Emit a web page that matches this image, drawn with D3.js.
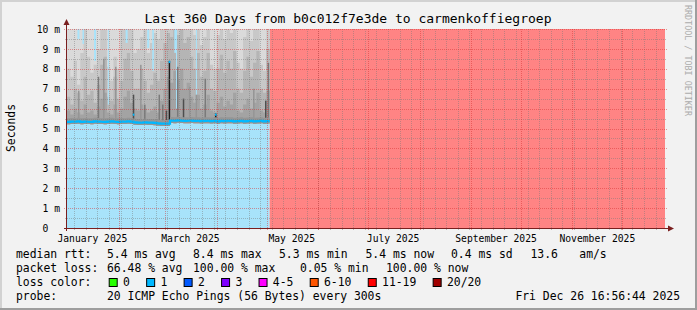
<!DOCTYPE html>
<html><head><meta charset="utf-8">
<script src="https://cdn.jsdelivr.net/npm/d3@7"></script>
<style>
html,body{margin:0;padding:0;background:#f2f2f2;}
svg text{font-family:"DejaVu Sans Mono",monospace;white-space:pre;}
</style></head><body>
<svg id="chart" width="697" height="310"></svg>
<script>
// ---------------- DATA ----------------
const title = "Last 360 Days from b0c012f7e3de to carmenkoffiegroep";
const startTime = new Date(2024, 11, 31, 16, 56, 44);
const endTime = new Date(2025, 11, 26, 16, 56, 44);
const binDays = 2; // each value below covers 2 days, starting at startTime

// median rtt per bin (ms)
const median = [5.33,5.35,5.34,5.36,5.33,5.35,5.34,5.33,5.36,5.35,5.34,5.33,5.35,5.36,5.34,5.33,5.35,5.34,5.36,5.35,
  5.31,5.30,5.29,5.31,5.30,5.30,5.28,5.26,5.24,5.25,5.25,
  5.40,5.39,5.41,5.40,5.38,5.39,5.40,5.38,5.39,5.37,5.38,5.39,5.37,5.38,5.36,5.38,5.37,5.39,5.38,5.36,
  5.37,5.38,5.36,5.37,5.38,5.36,5.37,5.38,5.36,5.37];
// smoke percentile tops per bin (ms)
const smoke90 = [8.0,7.6,8.4,7.2,8.8,10,8.6,7.8,8.2,9.0,10,10,8.1,7.4,8.6,8.0,10,10,10,10,8.8,
  9.0,9.6,10,8.8,9.3,9.8,9.5,10,10,10,
  10,10,10,10,10,10,10,9.7,10,9.2,
  9.6,10,8.2,8.0,9.7,10,9.5,10,9.8,10,
  8.3,8.0,9.6,10,9.4,10,10,8.2,7.9,10];
const smoke75 = [6.6,6.2,7.0,6.8,6.4,7.6,6.7,6.9,6.3,7.2,8.2,8.6,6.6,6.4,7.6,6.5,7.4,8.5,8.8,7.9,7.0,
  7.0,8.0,7.4,6.8,7.2,7.8,7.4,8.4,9.3,9.8,
  9.6,10,9.7,10,9.3,9.6,8.6,8.0,8.8,7.6,
  7.9,8.8,7.0,6.9,8.0,8.7,7.8,8.4,8.0,8.9,
  7.0,6.8,7.9,8.6,7.6,8.3,8.9,7.0,6.8,9.0];
const smoke60 = [5.9,5.7,6.0,5.8,5.7,6.2,5.8,5.9,5.7,6.1,6.5,6.8,5.8,5.7,6.2,5.8,6.0,6.6,6.9,6.3,6.0,
  5.9,6.2,6.0,5.8,5.9,6.1,5.8,6.4,7.0,7.6,
  7.3,7.9,7.5,8.0,7.0,7.3,6.6,6.3,6.7,6.0,
  6.2,6.7,5.9,5.8,6.3,6.6,6.1,6.4,6.2,6.8,
  5.9,5.8,6.2,6.5,6.0,6.3,6.8,5.9,5.8,6.9];
// narrow dense smoke columns: [day since start, top ms, density 1..4]
const spikes = [[6.6,6.9,1],[18.5,7.6,2],[21.7,8.5,1],[28.9,8.1,1],[39.6,6.7,3],[44.0,8.2,1],[46.4,6.2,2],
  [55.1,6.7,2],[57.2,6.2,2],[59.4,5.9,3],[61.2,8.4,4],[66.2,8.1,2],[69.7,6.5,3],[73.4,7.1,1],[77.4,6.7,1],
  [82.8,7.5,2],[89.1,5.75,4],[112.0,7.0,1],[119.2,6.4,3],[120.8,8.3,2]];
// short median excursions: [day, ms]
const medianSpikes = [[39.6,5.75],[61.2,8.4],[89.1,5.75]];
// columns where the max ping stays below the 10 ms top: [day, max ms, duration days]
const topGaps = [[6.3,9.5,1.2],[9.3,9.25,0.9],[16.3,8.4,1.2],[24.6,6.2,0.6],[35.3,9.3,1.2],[48.3,9.05,1.2],
  [51.3,7.9,1.0],[64.6,8.8,1.2],[65.6,6.0,0.6],[77.6,6.0,0.6]];
// loss periods: [from day, to day, loss level index]
const lossPeriods = [[0,122,1],[122,360,7]];

const yTicks = [0,1,2,3,4,5,6,7,8,9,10];
const yTickLabels = [" 0  "," 1 m"," 2 m"," 3 m"," 4 m"," 5 m"," 6 m"," 7 m"," 8 m"," 9 m","10 m"];
const xLabelMonths = [0,2,4,6,8,10];
const xTickLabels = ["January 2025","March 2025","May 2025","July 2025","September 2025","November 2025"];

const lossLabels = ["0","1","2","3","4-5","6-10","11-19","20/20"];
const lossColors = ["#26ff00","#00b8ff","#0059ff","#7e00ff","#ff00ff","#ff5500","#ff0000","#a00000"];
const lossBg = {1:"#a8e3fa", 7:"#ff8484"};

const medianStats = [["5.4 ms avg",107],["8.4 ms max",193],["5.3 ms min",279],["5.4 ms now",365.5],["0.4 ms sd",451],["13.6",530.5],["am/s",579.3]];
const lossStats = [["66.48 % avg",107],["100.00 % max",193],["0.05 % min",300],["100.00 % now",386]];
const probeText = "20 ICMP Echo Pings (56 Bytes) every 300s";
const dateText = "Fri Dec 26 16:56:44 2025";

// ---------------- DRAW ----------------
const W = 697, H = 310;
const svg = d3.select("#chart");
const X0 = 67, X1 = 665, Y0 = 228, Y1 = 29;
const x = d3.scaleTime().domain([startTime, endTime]).range([X0, X1]);
const y = d3.scaleLinear().domain([0, 10]).range([Y0, Y1]);
const dd = d => new Date(startTime.getTime() + d * 864e5);
const yTop = y.domain()[1];
const clip = v => Math.min(v, yTop);

svg.append("rect").attr("width", W).attr("height", H).attr("fill", "#f2f2f2");
svg.append("rect").attr("x",0).attr("y",0).attr("width",W).attr("height",2).attr("fill","#d2d2d2");
svg.append("rect").attr("x",0).attr("y",0).attr("width",2).attr("height",H).attr("fill","#d2d2d2");
svg.append("rect").attr("x",0).attr("y",H-2).attr("width",W).attr("height",2).attr("fill","#9e9e9e");
svg.append("rect").attr("x",W-2).attr("y",0).attr("width",2).attr("height",H).attr("fill","#9e9e9e");

// canvas
svg.append("rect").attr("x",X0).attr("y",Y1).attr("width",X1-X0).attr("height",Y0-Y1).attr("fill","#ffffff");

// loss backgrounds
svg.append("g").selectAll("rect").data(lossPeriods).join("rect")
  .attr("x", d => x(dd(d[0]))).attr("width", d => x(dd(d[1])) - x(dd(d[0])))
  .attr("y", Y1).attr("height", Y0 - Y1).attr("fill", d => lossBg[d[2]]);

// smoke
const bins = median.map((m, i) => ({i, m, p90: smoke90[i], p75: smoke75[i], p60: smoke60[i]}));
const binsExt = bins.concat([Object.assign({}, bins[bins.length-1], {i: bins.length})]);
const bx = d => x(dd(d.i * binDays));
function layer(topFn, bottomFn, color) {
  const area = d3.area().curve(d3.curveStepAfter).x(bx).y0(d => y(bottomFn(d))).y1(d => y(clip(topFn(d))));
  svg.append("path").datum(binsExt).attr("d", area).attr("fill", color);
}
layer(d => yTop, d => d.m - 0.12, "#dadada");
layer(d => d.p90, d => d.m - 0.12, "#c8c8c8");
layer(d => d.p75, d => d.m - 0.12, "#b5b5b5");
layer(d => d.p60, d => d.m - 0.12, "#a3a3a3");

// top gaps (background shows through)
svg.append("g").selectAll("rect").data(topGaps).join("rect")
  .attr("x", d => x(dd(d[0]))).attr("width", d => Math.max(1, x(dd(d[0] + d[2])) - x(dd(d[0]))))
  .attr("y", y(yTop)).attr("height", d => y(d[1]) - y(yTop)).attr("fill", lossBg[1]);

// spikes
const density = d3.scaleOrdinal().domain([1,2,3,4]).range(["#959595","#7a7a7a","#4e4e4e","#1e1e1e"]);
const medAt = day => median[Math.min(median.length - 1, Math.floor(day / binDays))];
svg.append("g").selectAll("rect").data(spikes).join("rect")
  .attr("x", d => x(dd(d[0]))).attr("width", d => Math.max(1.4, x(dd(d[0] + 0.9)) - x(dd(d[0]))))
  .attr("y", d => y(d[1])).attr("height", d => y(medAt(d[0])) - y(d[1])).attr("fill", d => density(d[2]));

// dense core around the median
layer(d => d.m + 0.18, d => d.m - 0.12, "#959595");

// median line
const mline = d3.line().curve(d3.curveStepAfter).x(bx).y(d => y(d.m));
svg.append("path").datum(binsExt).attr("d", mline).attr("fill", "none")
  .attr("stroke", lossColors[1]).attr("stroke-width", 2.2);
svg.append("g").selectAll("rect").data(medianSpikes).join("rect")
  .attr("x", d => x(dd(d[0]))).attr("width", 1.6)
  .attr("y", d => y(d[1])).attr("height", 2.2).attr("fill", lossColors[1]);

// grid
const grid = svg.append("g").attr("shape-rendering", "crispEdges");
const minorY = d3.range(0.5, 10, 1);
grid.selectAll(".gy").data(minorY).join("line")
  .attr("x1", X0 - 2).attr("x2", X1 + 2).attr("y1", d => Math.round(y(d)) + 0.5).attr("y2", d => Math.round(y(d)) + 0.5)
  .attr("stroke", "rgba(120,120,120,0.45)").attr("stroke-dasharray", "1,1");
const weeks = d3.timeSunday.range(startTime, endTime);
grid.selectAll(".gx").data(weeks).join("line")
  .attr("x1", d => Math.round(x(d)) + 0.5).attr("x2", d => Math.round(x(d)) + 0.5).attr("y1", Y1).attr("y2", Y0 + 2)
  .attr("stroke", "rgba(120,120,120,0.45)").attr("stroke-dasharray", "1,1");
grid.selectAll(".my").data(yTicks.filter(v => v > 0)).join("line")
  .attr("x1", X0 - 3).attr("x2", X1 + 3).attr("y1", d => Math.round(y(d)) + 0.5).attr("y2", d => Math.round(y(d)) + 0.5)
  .attr("stroke", "rgba(215,50,50,0.5)").attr("stroke-dasharray", "1,1");
const months = d3.timeMonth.range(startTime, endTime).filter(m => x(m) > X0 + 1);
grid.selectAll(".mx").data(months).join("line")
  .attr("x1", d => Math.round(x(d)) + 0.5).attr("x2", d => Math.round(x(d)) + 0.5).attr("y1", Y1).attr("y2", Y0 + 3)
  .attr("stroke", "rgba(215,50,50,0.5)").attr("stroke-dasharray", "1,1");

// axes
const axisColor = "#7a1f1f";
svg.append("line").attr("x1", X0 - 0.5).attr("x2", X0 - 0.5).attr("y1", Y0 + 3).attr("y2", Y1 - 5)
  .attr("stroke", axisColor).attr("stroke-width", 1);
svg.append("line").attr("x1", X0 - 3).attr("x2", X1 + 5).attr("y1", Y0 + 0.5).attr("y2", Y0 + 0.5)
  .attr("stroke", axisColor).attr("stroke-width", 1);
svg.append("path").attr("d", `M${X0-3.5},${Y1-4} L${X0+2.5},${Y1-4} L${X0-0.5},${Y1-10} Z`).attr("fill", axisColor);
svg.append("path").attr("d", `M${X1+3},${Y0-2.5} L${X1+3},${Y0+3.5} L${X1+9},${Y0+0.5} Z`).attr("fill", axisColor);

// y labels
svg.append("g").selectAll("text").data(yTicks).join("text")
  .attr("x", 36.7).attr("y", d => y(d) + 3.6).attr("font-size", "9.7px").attr("fill", "#000")
  .text((d, i) => yTickLabels[i]);

// x labels
svg.append("g").selectAll("text").data(xLabelMonths).join("text")
  .attr("x", (d) => x(d3.timeDay.offset(new Date(2025, d, 1), 15))).attr("y", 241.5)
  .attr("text-anchor", "middle").attr("font-size", "9.7px").attr("fill", "#000")
  .text((d, i) => xTickLabels[i]);

// title
svg.append("text").attr("x", 348).attr("y", 23).attr("text-anchor", "middle")
  .attr("font-size", "13px").attr("fill", "#000").text(title);

// vertical label
svg.append("text").attr("transform", "translate(14.5,128) rotate(-90)").attr("text-anchor", "middle")
  .attr("font-size", "11.4px").attr("fill", "#000").text("Seconds");

// watermark
svg.append("text").attr("transform", "translate(685,5) rotate(90)").attr("font-size", "8.4px")
  .attr("fill", "#acacac").text("RRDTOOL / TOBI OETIKER");

// legend
const LF = "11.4px";
const lg = svg.append("g").attr("font-size", LF).attr("fill", "#000");
lg.append("text").attr("x", 16).attr("y", 258).text("median rtt:");
medianStats.forEach(s => lg.append("text").attr("x", s[1]).attr("y", 258).text(s[0]));
lg.append("text").attr("x", 16).attr("y", 272).text("packet loss:");
lossStats.forEach(s => lg.append("text").attr("x", s[1]).attr("y", 272).text(s[0]));
lg.append("text").attr("x", 16).attr("y", 286).text("loss color:");
let bxPos = 108.7;
lossLabels.forEach((l, i) => {
  lg.append("rect").attr("x", bxPos + 0.5).attr("y", 278.5).attr("width", 8).attr("height", 8)
    .attr("fill", lossColors[i]).attr("stroke", "#000").attr("stroke-width", 1);
  const t = lg.append("text").attr("x", bxPos + 14.3).attr("y", 286).text(l);
  bxPos = bxPos + 14.3 + t.node().getComputedTextLength() + 16.3;
});
lg.append("text").attr("x", 16).attr("y", 300).text("probe:");
lg.append("text").attr("x", 107).attr("y", 300).text(probeText);
lg.append("text").attr("x", 680).attr("y", 300).attr("text-anchor", "end").text(dateText);
</script>
</body></html>
